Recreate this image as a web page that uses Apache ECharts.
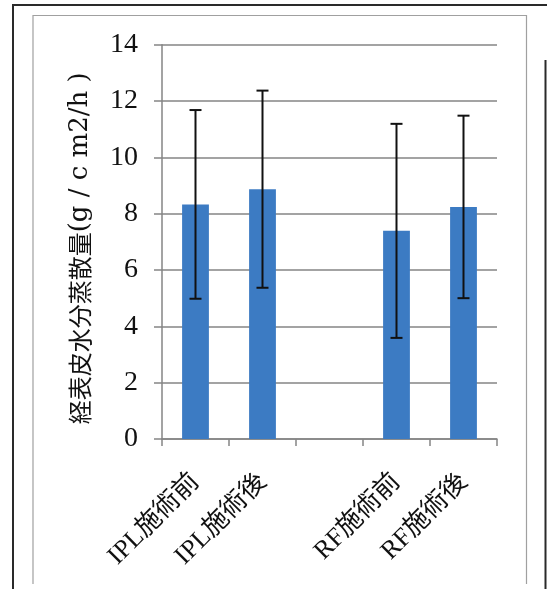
<!DOCTYPE html>
<html>
<head>
<meta charset="utf-8">
<script src="https://cdn.jsdelivr.net/npm/echarts@6/dist/echarts.min.js"></script>
<style>
html,body{margin:0;padding:0;background:#fff;}
#chart{width:547px;height:589px;}
</style>
</head>
<body>
<div id="chart"></div>
<script>
// Data
var categories = ['IPL施術前', 'IPL施術後', '', 'RF施術前', 'RF施術後'];
var means = [8.33, 8.87, null, 7.39, 8.24];
var sds = [3.35, 3.5, null, 3.8, 3.24];
var yTicks = [0, 2, 4, 6, 8, 10, 12, 14];
var yTitleMain = '経表皮水分蒸散量';
var yTitleUnit = '(g / c m2/h )';

var barData = means.map(function (v) { return v == null ? '-' : v; });
var errData = [];
means.forEach(function (v, i) {
  if (v != null) errData.push([i, v - sds[i], v + sds[i]]);
});

var chart = echarts.init(document.getElementById('chart'), null, {renderer: 'canvas'});
var serif = '"Liberation Serif", "Noto Sans CJK JP", serif';

chart.setOption({
  backgroundColor: '#ffffff',
  animation: false,
  grid: {left: 162, top: 44.7, right: 50, bottom: 150, containLabel: false},
  xAxis: {
    type: 'category',
    data: categories,
    axisLine: {lineStyle: {color: '#858585', width: 1.5}},
    axisTick: {show: true, length: 7, lineStyle: {color: '#858585', width: 1.5}},
    axisLabel: {
      rotate: 45, margin: 39, interval: 0,
      fontFamily: serif, fontSize: 26, color: '#111'
    }
  },
  yAxis: {
    type: 'value',
    min: yTicks[0], max: yTicks[yTicks.length - 1], interval: 2,
    name: '{a|' + yTitleMain + '}{b|' + yTitleUnit + '}',
    nameLocation: 'middle',
    nameRotate: 90,
    nameGap: 69,
    nameTextStyle: {
      padding: [0, 13, 0, 0],
      rich: {
        a: {fontFamily: '"Noto Sans CJK JP"', fontSize: 24, color: '#111'},
        b: {fontFamily: '"DejaVu Serif", serif', fontSize: 26, color: '#111'}
      }
    },
    axisLine: {show: true, lineStyle: {color: '#858585', width: 1.5}},
    axisTick: {show: true, length: 8, lineStyle: {color: '#858585', width: 1.5}},
    splitLine: {show: true, lineStyle: {color: '#858585', width: 1.6}},
    axisLabel: {
      margin: 24, fontFamily: serif, fontSize: 28, color: '#111',
      formatter: function (v) { return String(v); }
    }
  },
  series: [
    {
      type: 'bar',
      data: barData,
      barWidth: '40%',
      itemStyle: {color: '#3c7bc3'},
      z: 2
    },
    {
      type: 'custom',
      data: errData,
      z: 5,
      renderItem: function (params, api) {
        var x = api.value(0);
        var lo = api.coord([x, api.value(1)]);
        var hi = api.coord([x, api.value(2)]);
        var cx = lo[0];
        var hw = 6;
        var st = {stroke: '#111', lineWidth: 2};
        return {
          type: 'group',
          children: [
            {type: 'line', shape: {x1: cx, y1: hi[1], x2: cx, y2: lo[1]}, style: st},
            {type: 'line', shape: {x1: cx - hw, y1: hi[1], x2: cx + hw, y2: hi[1]}, style: st},
            {type: 'line', shape: {x1: cx - hw, y1: lo[1], x2: cx + hw, y2: lo[1]}, style: st}
          ]
        };
      }
    }
  ],
  graphic: [
    {type: 'polyline', silent: true, shape: {points: [[13, 589], [13, 5], [547, 5]]}, style: {stroke: '#2a2a2a', lineWidth: 2, fill: null}},
    {type: 'line', silent: true, shape: {x1: 545.5, y1: 60, x2: 545.5, y2: 589}, style: {stroke: '#2a2a2a', lineWidth: 2}},
    {type: 'polyline', silent: true, shape: {points: [[33, 584], [33, 15.5], [526.5, 15.5], [526.5, 584]]}, style: {stroke: '#a0a0a0', lineWidth: 1.2, fill: null}}
  ]
});
</script>
</body>
</html>
